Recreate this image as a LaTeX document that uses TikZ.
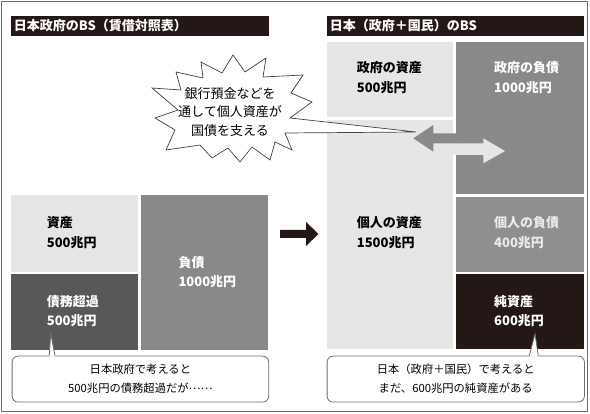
\documentclass[tikz,border=0pt]{standalone}
\usepackage{fontspec}
\setmainfont{Noto Sans CJK JP}
\definecolor{bsblack}{HTML}{231815}
\definecolor{bslight}{HTML}{E6E6E6}
\definecolor{bsmid}{HTML}{898989}
\definecolor{bsdark}{HTML}{595757}
\definecolor{bsframe}{HTML}{6E6E6E}
\tikzset{
  block/.style={anchor=north west, inner sep=0pt, outer sep=0pt},
  bslabel/.style={anchor=north west, inner sep=0pt, align=left, font=\bfseries\fontsize{13}{19.5}\selectfont},
  titlebar/.style={anchor=north west, fill=bsblack, text=white, inner xsep=3pt, inner ysep=0pt, minimum height=20.3pt, align=left, font=\bfseries\fontsize{13}{14}\selectfont},
  callout/.style={anchor=north west, draw=bsframe, fill=white, rounded corners=6pt, line width=0.8pt, inner sep=0pt, align=center, font=\fontsize{11.3}{19}\selectfont},
}
\begin{document}
\begin{tikzpicture}[x=1pt, y=-1pt]
        \useasboundingbox (0,0) rectangle (590,414);
        \draw[bsframe, line width=1pt] (1.5,1.5) rectangle (587.5,411.5);
        % titles
        \node[titlebar, text width=251.6pt] (titleL) at (10.7,15.7) {日本政府のBS（賃借対照表）};
        \node[titlebar, text width=251.3pt] (titleR) at (326.7,15.7) {日本（政府＋国民）のBS};
        % left balance sheet
        \node[block, fill=bslight, minimum width=127.6pt, minimum height=76.7pt] (assetL) at (10.7,195) {};
        \node[block, fill=bsdark, minimum width=127.6pt, minimum height=76pt] (excessL) at (10.7,274) {};
        \node[block, fill=bsmid, minimum width=127.3pt, minimum height=155pt] (liabL) at (141,195) {};
        \node[bslabel] (lblAssetL) at (46.7,216.5) {資産\\500兆円};
        \node[bslabel, text=white] (lblExcessL) at (46.7,295) {債務超過\\500兆円};
        \node[bslabel, text=white] (lblLiabL) at (178.3,256) {負債\\1000兆円};
        % right balance sheet
        \node[block, fill=bslight, minimum width=126.6pt, minimum height=75.6pt] (govA) at (326.7,41.7) {};
        \node[block, fill=bslight, minimum width=126.6pt, minimum height=229.3pt] (persA) at (326.7,120) {};
        \node[block, fill=bsmid, minimum width=128pt, minimum height=152.3pt] (govL) at (456,41.7) {};
        \node[block, fill=bsmid!95!white, minimum width=128pt, minimum height=75pt] (persL) at (456,196.7) {};
        \node[block, fill=bsblack, minimum width=128pt, minimum height=75.3pt] (netR) at (456,274) {};
        % arrows between the blocks
        \fill[bslight] (446.7,143.3) -- (483.3,143.3) -- (483.3,138.3) -- (505,151) -- (483.3,163.3) -- (483.3,155) -- (446.7,155) -- cycle;
        \fill[bsmid] (413.3,138.3) -- (433.3,125) -- (433.3,133.3) -- (457,133.3) -- (457,143.3) -- (433.3,143.3) -- (433.3,151.7) -- cycle;
        \node[bslabel] (lblGovA) at (356.7,61.5) {政府の資産\\500兆円};
        \node[bslabel, text=white] (lblGovL) at (494,61.5) {政府の負債\\1000兆円};
        \node[bslabel] (lblPersA) at (356.7,216.5) {個人の資産\\1500兆円};
        \node[bslabel, text=white!92!black] (lblPersL) at (494,216.5) {個人の負債\\400兆円};
        \node[bslabel, text=white] (lblNet) at (494,295) {純資産\\600兆円};
        % big arrow
        \fill[bsblack] (280,230) -- (306,230) -- (306,222) -- (318.5,234) -- (306,246) -- (306,238) -- (280,238) -- cycle;
        % starburst
        \draw[black!75, fill=white, line width=0.7pt] (152,88) -- (181,90) -- (176,72) -- (203,78) -- (201,62) -- (222,73) -- (233,55) -- (245,72) -- (266,58) -- (263,77) -- (303,75) -- (291,93) -- (312,102) -- (290,118) -- (416,132) -- (285,133) -- (292,150) -- (275,142) -- (270,160) -- (252,147) -- (240,162) -- (228,148) -- (212,158) -- (200,145) -- (166,150) -- (175,130) -- (155,118) -- (178,110) -- cycle;
        \node[align=center, inner sep=0pt, font=\fontsize{13}{18.7}\selectfont] (burst) at (230,112) {銀行預金などを\\通して個人資産が\\国債を支える};
        % callouts
        \node[callout, minimum width=256.6pt, minimum height=46pt] (noteL) at (11.7,355.7) {日本政府で考えると\\500兆円の債務超過だが\raisebox{0.33em}{……}};
        \node[callout, minimum width=257.3pt, minimum height=46pt] (noteR) at (326.7,355.7) {日本（政府＋国民）で考えると\\まだ、600兆円の純資産がある};
        \coordinate (tipL) at (50.7,333.3);
        \coordinate (tipR) at (535,334);
        \fill[white] ([xshift=37.6pt,yshift=-0.9pt]noteL.north west) -- (tipL) -- ([xshift=43.3pt,yshift=-0.9pt]noteL.north west) -- cycle;
        \draw[bsframe, line width=0.8pt] ([xshift=37.6pt]noteL.north west) -- (tipL) -- ([xshift=43.3pt]noteL.north west);
        \fill[white] ([xshift=202.6pt,yshift=-0.9pt]noteR.north west) -- (tipR) -- ([xshift=211.6pt,yshift=-0.9pt]noteR.north west) -- cycle;
        \draw[bsframe, line width=0.8pt] ([xshift=202.6pt]noteR.north west) -- (tipR) -- ([xshift=211.6pt]noteR.north west);
\end{tikzpicture}
\end{document}
